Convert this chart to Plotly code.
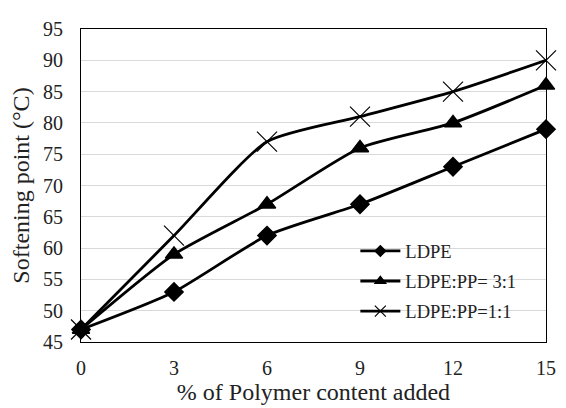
import plotly.graph_objects as go

polymer_pct = [0, 3, 6, 9, 12, 15]
ldpe = [47, 53, 62, 67, 73, 79]
ldpe_pp_31 = [47, 59, 67, 76, 80, 86]
ldpe_pp_11 = [47, 62, 77, 81, 85, 90]

# name, values, symbol, marker size on plot, marker size in legend, marker outline
series = [
    ("LDPE", ldpe, "diamond", 14, 8, 1.5),
    ("LDPE:PP= 3:1", ldpe_pp_31, "triangle-up", 15, 9, 1.5),
    ("LDPE:PP=1:1", ldpe_pp_11, "x-thin", 20, 11, 1.2),
]

fig = go.Figure()
for name, vals, sym, size, lsize, lw in series:
    fig.add_trace(go.Scatter(
        x=polymer_pct, y=vals, name=name, legendgroup=name,
        mode="lines+markers", showlegend=False,
        line=dict(color="black", width=2.8, shape="spline", smoothing=0.6),
        marker=dict(symbol=sym, size=size, color="black",
                    line=dict(color="black", width=lw)),
        cliponaxis=False,
    ))
# legend entries with smaller markers, as in the original
for name, vals, sym, size, lsize, lw in series:
    fig.add_trace(go.Scatter(
        x=[None], y=[None], name=name, legendgroup=name, mode="lines+markers",
        line=dict(color="black", width=2.8),
        marker=dict(symbol=sym, size=lsize, color="black",
                    line=dict(color="black", width=lw)),
    ))

font = "Liberation Serif, Times New Roman, serif"
# page body has an 8px margin, so the figure is shifted by 8px
fig.update_layout(
    width=558, height=400,
    margin=dict(l=73, r=16, t=10, b=66),
    paper_bgcolor="white", plot_bgcolor="white",
    font=dict(family=font, size=20, color="#222"),
    showlegend=True,
    legend=dict(x=0.59, y=0.35, xanchor="left", yanchor="top",
                bgcolor="rgba(0,0,0,0)", font=dict(size=18.5),
                tracegroupgap=3, itemwidth=40),
    xaxis=dict(
        title=dict(text="% of Polymer content added", standoff=1),
        range=[0, 15], tickvals=polymer_pct, showgrid=False,
        showline=True, linecolor="black", linewidth=1, mirror=True,
        zeroline=False, ticks="outside", ticklen=8, tickcolor="white",
    ),
    yaxis=dict(
        title=dict(text="Softening point (°C)", standoff=8),
        range=[45, 95], dtick=5, showgrid=True, gridcolor="#d9d9d9",
        showline=True, linecolor="black", linewidth=1, mirror=True,
        zeroline=False, ticks="outside", ticklen=13, tickcolor="white",
    ),
)

fig.write_html("out.html")
